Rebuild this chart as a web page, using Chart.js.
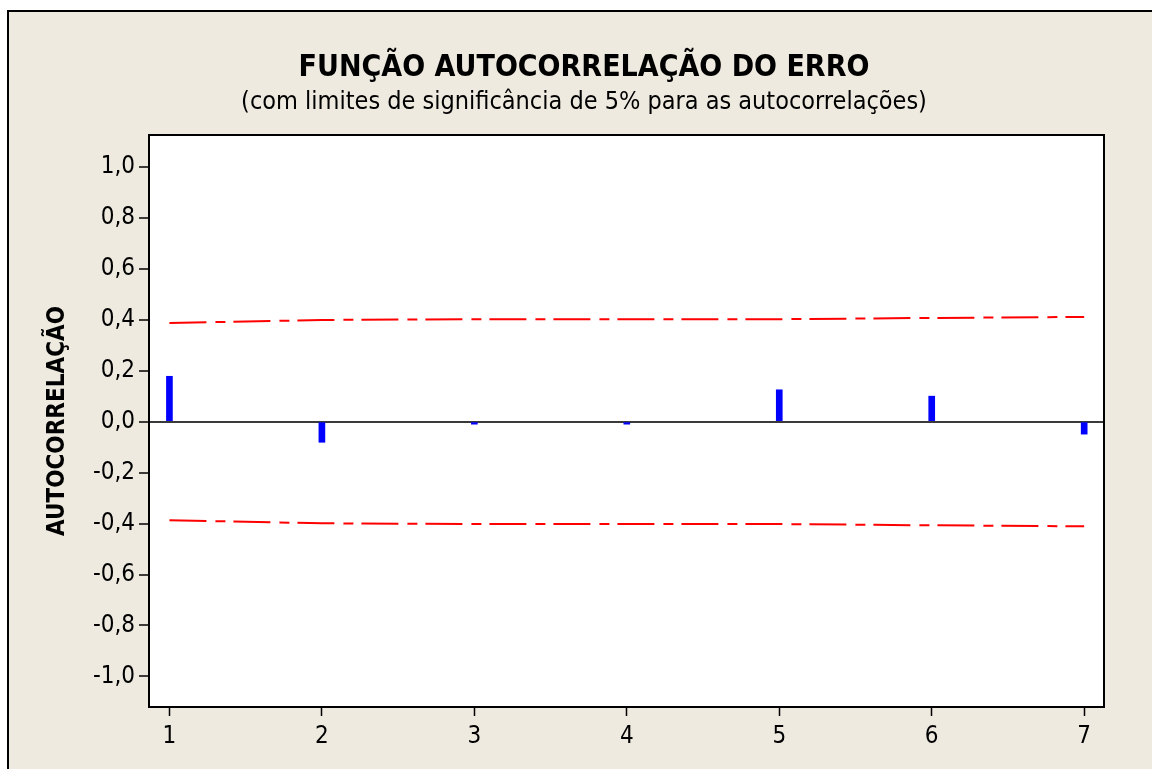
<!DOCTYPE html>
<html>
<head>
<meta charset="utf-8">
<script src="https://cdn.jsdelivr.net/npm/chart.js@4.4.0/dist/chart.umd.min.js"></script>
<style>
  html, body { margin: 0; padding: 0; background: #ffffff; width: 1152px; height: 769px; overflow: hidden; }
  #frame { position: absolute; left: 7px; top: 10px; width: 1170px; height: 790px;
           background: #EEEAE0; border-left: 2px solid #000; border-top: 2px solid #000; }
  #wrap { position: absolute; left: 0; top: 0; width: 1152px; height: 769px; }
</style>
</head>
<body>
<div id="frame"></div>
<div id="wrap"><canvas id="acf" width="1152" height="769"></canvas></div>
<script>
// Lags and residual autocorrelations
const lags = [1, 2, 3, 4, 5, 6, 7];
const autocorr = [0.178, -0.081, -0.010, -0.010, 0.125, 0.100, -0.049];

// 5% significance limits at each lag
const upperLimit = [0.387, 0.399, 0.402, 0.402, 0.402, 0.407, 0.411];
const lowerLimit = [-0.387, -0.399, -0.402, -0.402, -0.402, -0.407, -0.411];

// Axis tick values
const yTicks = [-1.0, -0.8, -0.6, -0.4, -0.2, 0.0, 0.2, 0.4, 0.6, 0.8, 1.0];
const xTicks = [1, 2, 3, 4, 5, 6, 7];

const FONT = 'Tahoma, "DejaVu Sans Condensed", "DejaVu Sans", sans-serif';

// White plot area with a black frame around it
const plotFrame = {
  id: 'plotFrame',
  beforeDraw(chart) {
    const { ctx, chartArea: a } = chart;
    ctx.save();
    ctx.fillStyle = '#ffffff';
    ctx.fillRect(a.left, a.top, a.right - a.left, a.bottom - a.top);
    ctx.restore();
  },
  afterDraw(chart) {
    const { ctx, chartArea: a } = chart;
    ctx.save();
    ctx.strokeStyle = '#000000';
    ctx.lineWidth = 2;
    ctx.strokeRect(a.left, a.top, a.right - a.left, a.bottom - a.top);
    ctx.restore();
  }
};

const toPts = (ys) => lags.map((x, i) => ({ x: x, y: ys[i] }));

new Chart(document.getElementById('acf'), {
  type: 'bar',
  data: {
    datasets: [
      {
        type: 'bar',
        data: toPts(autocorr),
        backgroundColor: '#0000FF',
        borderWidth: 0,
        barThickness: 6,
        order: 2
      },
      {
        type: 'line',
        data: toPts(upperLimit),
        borderColor: '#FF0000',
        borderWidth: 2,
        borderDash: [37, 9, 10, 8],
        pointRadius: 0,
        fill: false,
        tension: 0,
        order: 1
      },
      {
        type: 'line',
        data: toPts(lowerLimit),
        borderColor: '#FF0000',
        borderWidth: 2,
        borderDash: [37, 9, 10, 8],
        pointRadius: 0,
        fill: false,
        tension: 0,
        order: 1
      }
    ]
  },
  options: {
    responsive: false,
    animation: false,
    devicePixelRatio: 1,
    layout: { padding: { left: 16, right: 0, top: 0, bottom: 0 } },
    plugins: {
      legend: { display: false },
      tooltip: { enabled: false },
      title: {
        display: true,
        text: 'FUNÇÃO AUTOCORRELAÇÃO DO ERRO',
        color: '#000000',
        font: { family: FONT, size: 30, weight: 'bold' },
        padding: { top: 50, bottom: 0 }
      },
      subtitle: {
        display: true,
        text: '(com limites de significância de 5% para as autocorrelações)',
        color: '#000000',
        font: { family: FONT, size: 25, weight: 'normal' },
        padding: { top: 1, bottom: 18 }
      }
    },
    scales: {
      x: {
        type: 'linear',
        position: 'bottom',
        min: 0.866,
        max: 7.13,
        offset: false,
        afterBuildTicks: (s) => { s.ticks = xTicks.map(v => ({ value: v })); },
        afterFit: (s) => { s.height = 62; },
        ticks: {
          color: '#000000',
          font: { family: FONT, size: 24 },
          padding: 6,
          maxRotation: 0,
          callback: (v) => String(v)
        },
        grid: {
          offset: false,
          drawOnChartArea: false,
          drawTicks: true,
          tickLength: 9,
          tickColor: '#000000',
          tickWidth: 1.5
        },
        border: { display: false }
      },
      y: {
        type: 'linear',
        position: 'left',
        min: -1.12,
        max: 1.125,
        afterBuildTicks: (s) => { s.ticks = yTicks.map(v => ({ value: v })); },
        afterFit: (s) => { s.width = 133; },
        title: {
          display: true,
          text: 'AUTOCORRELAÇÃO',
          color: '#000000',
          font: { family: FONT, size: 24, weight: 'bold' },
          padding: { top: 27, bottom: 0 }
        },
        ticks: {
          color: '#000000',
          font: { family: FONT, size: 24 },
          padding: 4,
          callback: (v) => v.toFixed(1).replace('.', ',')
        },
        grid: {
          drawOnChartArea: true,
          drawTicks: true,
          tickLength: 10,
          tickColor: '#000000',
          tickWidth: 1.5,
          color: (c) => (c.tick && c.tick.value === 0 ? '#3a3a3a' : 'rgba(0,0,0,0)'),
          lineWidth: (c) => (c.tick && c.tick.value === 0 ? 2 : 0)
        },
        border: { display: false }
      },
      yRight: {
        type: 'linear',
        position: 'right',
        display: true,
        afterFit: (s) => { s.width = 48; },
        ticks: { display: false },
        grid: { display: false, drawTicks: false },
        border: { display: false }
      }
    }
  },
  plugins: [plotFrame]
});
</script>
</body>
</html>
